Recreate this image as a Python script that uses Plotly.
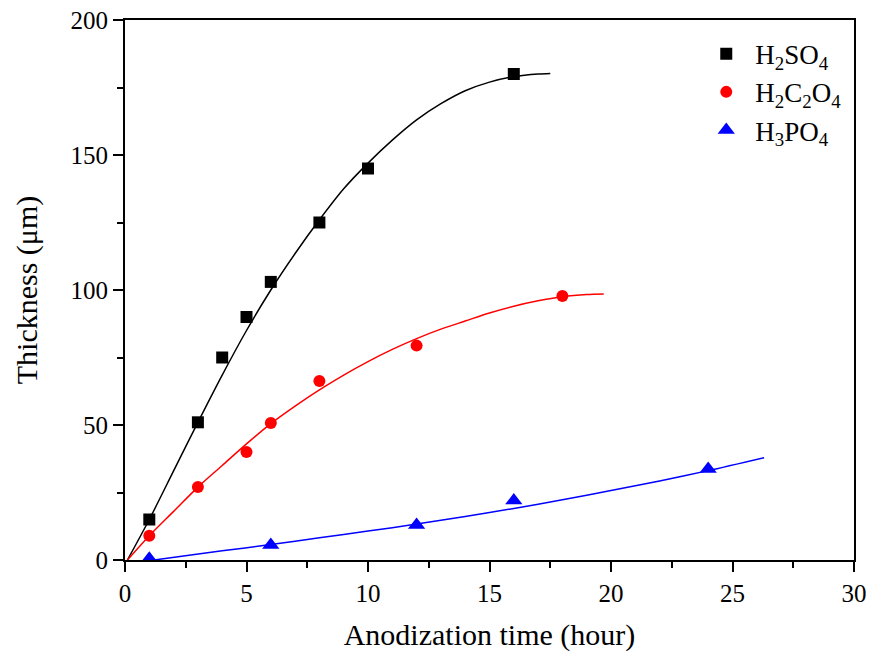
import plotly.graph_objects as go

# Measured data points
h2so4_x = [1, 3, 4, 5, 6, 8, 10, 16]
h2so4_y = [15, 51, 75, 90, 103, 125, 145, 180]

h2c2o4_x = [1, 3, 5, 6, 8, 12, 18]
h2c2o4_y = [9, 27, 40, 50.7, 66.3, 79.4, 97.8]

h3po4_x = [1, 6, 12, 16, 24]
h3po4_y = [0.5, 5.6, 13, 22, 33.7]

# Fitted curves
fit_h2so4_x = [0.1, 1, 2, 3, 4, 5, 6, 7, 8, 9, 10, 11, 12, 13, 14, 15, 16, 17, 17.5]
fit_h2so4_y = [0, 15, 33, 51, 68.5, 85, 100, 113.5, 126, 137.5, 147, 155.5, 163, 169, 173.8, 177, 179, 180, 180.2]

fit_h2c2o4_x = [0.1, 1, 2, 3, 4, 5, 6, 7, 8, 9, 10, 11, 12, 13, 14, 15, 16, 17, 18, 19, 19.7]
fit_h2c2o4_y = [0, 9, 18, 27, 35, 43, 50.5, 57, 63, 68.5, 73.5, 78, 82, 85.5, 88.5, 91.5, 94, 96, 97.5, 98.3, 98.5]

fit_h3po4_x = [1.2, 4, 6, 8, 10, 12, 14, 16, 18, 20, 22, 24, 26.3]
fit_h3po4_y = [0, 3.4, 5.7, 8.2, 10.7, 13.3, 16.1, 19.1, 22.3, 25.7, 29.3, 33.1, 37.9]

names = ["H<sub>2</sub>SO<sub>4</sub>", "H<sub>2</sub>C<sub>2</sub>O<sub>4</sub>", "H<sub>3</sub>PO<sub>4</sub>"]
colors = ["#000000", "#ff0000", "#0000ff"]
symbols = ["square", "circle", "triangle-up"]
sizes = [12, 12, 15]

FONT = "Liberation Serif, Times New Roman, serif"

fig = go.Figure()
series = [
    (h2so4_x, h2so4_y, fit_h2so4_x, fit_h2so4_y),
    (h2c2o4_x, h2c2o4_y, fit_h2c2o4_x, fit_h2c2o4_y),
    (h3po4_x, h3po4_y, fit_h3po4_x, fit_h3po4_y),
]
for i, (dx, dy, fx, fy) in enumerate(series):
    fig.add_trace(go.Scatter(x=fx, y=fy, mode="lines",
                             line=dict(color=colors[i], width=1.5, shape="spline", smoothing=0.8),
                             showlegend=False, hoverinfo="skip"))
for i, (dx, dy, fx, fy) in enumerate(series):
    fig.add_trace(go.Scatter(x=dx, y=dy, mode="markers", name=names[i],
                             marker=dict(color=colors[i], symbol=symbols[i], size=sizes[i], line=dict(width=0))))

axis_common = dict(
    showgrid=False, zeroline=False, showline=True, linecolor="black", linewidth=2,
    mirror=True, ticks="outside", ticklen=10, tickwidth=2, tickcolor="black",
    tickfont=dict(family=FONT, size=25, color="black"), automargin=False,
)
fig.update_xaxes(range=[0, 30], dtick=5, tick0=0,
                 minor=dict(ticks="outside", ticklen=6, dtick=2.5, tickwidth=2, tickcolor="black"),
                 title=dict(text="Anodization time (hour)", font=dict(family=FONT, size=30, color="black"), standoff=18),
                 **axis_common)
fig.update_yaxes(range=[0, 200], dtick=50, tick0=0,
                 minor=dict(ticks="outside", ticklen=6, dtick=25, tickwidth=2, tickcolor="black"),
                 title=dict(text="Thickness (μm)", font=dict(family=FONT, size=30, color="black"), standoff=24),
                 **axis_common)

fig.update_layout(
    width=873, height=659,
    margin=dict(l=125, r=19, t=20, b=99),
    plot_bgcolor="white", paper_bgcolor="white",
    font=dict(family=FONT, color="black"),
    legend=dict(x=0.785, y=0.982, xanchor="left", yanchor="top",
                font=dict(family=FONT, size=27, color="black"),
                itemwidth=48,
                bgcolor="rgba(0,0,0,0)", tracegroupgap=0),
)

fig.write_html("out.html")
